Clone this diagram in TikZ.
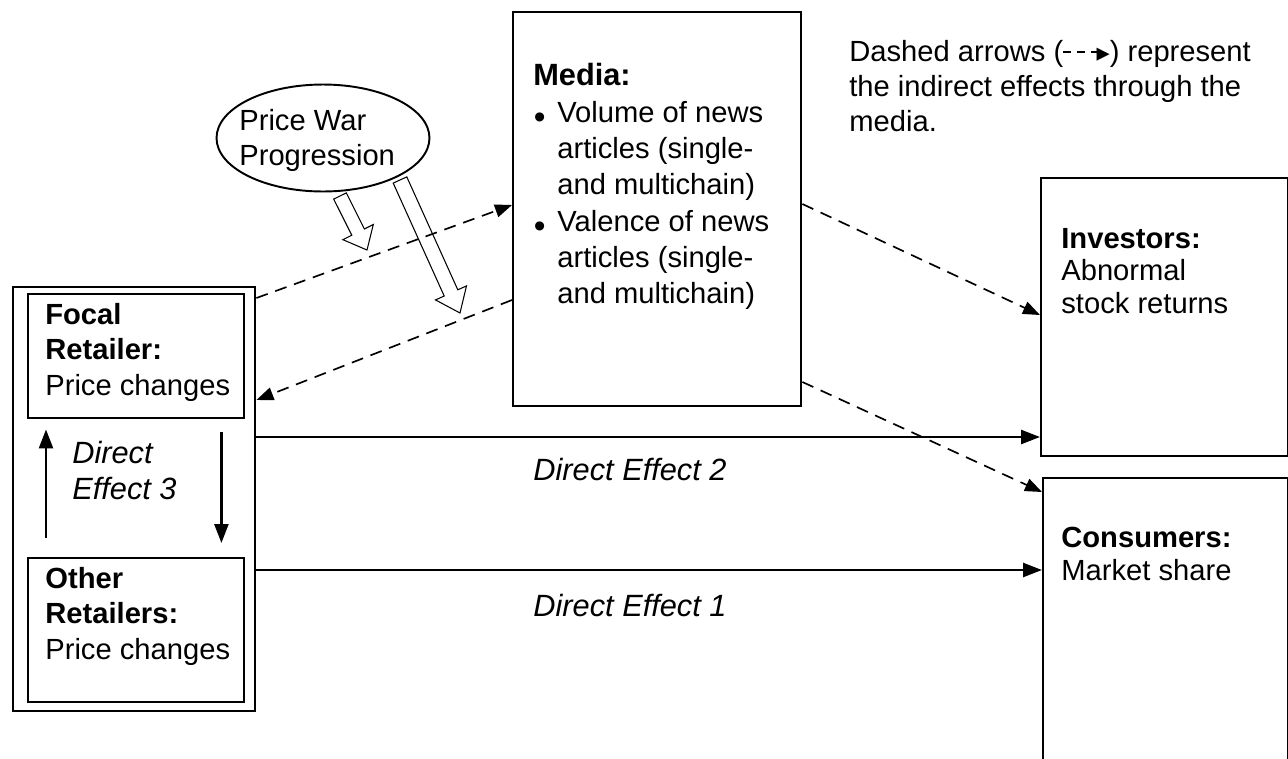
\documentclass[tikz,border=0pt]{standalone}
\usepackage{fontspec}
\setmainfont{Liberation Sans}
\newfontfamily\symfont{DejaVu Sans}
\usetikzlibrary{arrows.meta,shapes.geometric}
\newcommand{\mybul}{\makebox[0.48cm][l]{\hspace{0.01cm}\raisebox{-3.6pt}{\fontsize{19}{19}\selectfont\textbullet}}}
\newcommand{\myind}{\hspace*{0.48cm}}
\newcommand{\legarrow}{\rule[0.28em]{0.28em}{0.07em}\hspace{0.2em}\rule[0.28em]{0.28em}{0.07em}\hspace{0.2em}\rule[0.28em]{0.3em}{0.07em}\kern-0.12em{\symfont\fontsize{15}{15}\selectfont ▸}}
\begin{document}
\begin{tikzpicture}[x=0.02cm,y=-0.02cm,
  box/.style={draw, line width=1.4pt, inner sep=0pt, anchor=north west},
  txt/.style={inner sep=0pt, anchor=north west, align=left, font=\fontsize{16.6}{20.2}\selectfont},
  lbl/.style={inner sep=0pt, font=\fontsize{17.5}{20.5}\selectfont\itshape},
  solidarrow/.style={line width=1.4pt, -{Triangle[length=0.38cm,width=0.28cm]}},
  dasharrow/.style={line width=0.95pt, dash pattern=on 0.24cm off 0.16cm, -{Triangle[length=0.34cm,width=0.26cm]}},
  hollow/.style={draw, line width=0.6pt, line join=miter}
]
\useasboundingbox (0,0) rectangle (1288,758);
\clip (0,0) rectangle (1288,758);

% boxes
\node[box, minimum width=4.84cm, minimum height=8.48cm] (outer) at (12,286) {};
\node[box, minimum width=4.32cm, minimum height=2.48cm] (focal) at (27,293) {};
\node[box, minimum width=4.32cm, minimum height=2.88cm] (other) at (27,557) {};
\node[box, minimum width=5.76cm, minimum height=7.88cm] (media) at (512,11) {};
\node[box, minimum width=4.94cm, minimum height=5.56cm] (inv) at (1040,177) {};
\node[box, minimum width=4.9cm, minimum height=6cm] (cons) at (1042,477) {};
\node[draw, ellipse, line width=1.1pt, minimum width=4.26cm, minimum height=2.14cm, inner sep=0pt] (war) at (323,138) {};

% texts
\node[txt] (focaltxt) at (45,303) {\textbf{Focal}\\\textbf{Retailer:}\\Price changes};
\node[txt] (othertxt) at (45,567) {\textbf{Other}\\\textbf{Retailers:}\\Price changes};
\node[lbl, anchor=north west, align=left] (de3) at (72,441) {Direct\\Effect 3};
\node[txt, font=\fontsize{16.6}{20.7}\selectfont] (mediatxt) at (533,63) {{\fontsize{17.5}{21}\selectfont\textbf{Media:}}\\
\mybul Volume of news\\
\myind articles (single-\\
\myind and multichain)\\
\mybul Valence of news\\
\myind articles (single-\\
\myind and multichain)};
\node[txt] (wartxt) at (239,109) {Price War\\Progression};
\node[txt, font=\fontsize{16.6}{19.8}\selectfont] (note) at (849,40) {Dashed arrows (\legarrow) represent\\the indirect effects through the\\media.};
\node[txt, font=\fontsize{16.6}{18.4}\selectfont] (invtxt) at (1061,228) {\textbf{Investors:}\\Abnormal\\stock returns};
\node[txt, font=\fontsize{16.6}{18.4}\selectfont] (constxt) at (1061,527) {\textbf{Consumers:}\\Market share};
\node[lbl] (de2) at (630,470) {Direct Effect 2};
\node[lbl] (de1) at (630,605) {Direct Effect 1};

% direct effects
\draw[solidarrow] (outer.east |- 0,437) -- (inv.west |- 0,437);
\draw[solidarrow] (outer.east |- 0,570) -- (cons.west |- 0,570);
\draw[solidarrow] ([shift={(19,-19)}]other.north west) -- ([shift={(19,10)}]focal.south west);
\draw[solidarrow] ([shift={(-24,13)}]focal.south east) -- ([shift={(-24,-14)}]other.north east);

% indirect effects
\draw[dasharrow] (outer.east |- 0,298) -- (media.west |- 0,205);
\draw[dasharrow] (media.west |- 0,300) -- (outer.east |- 0,400);
\draw[dasharrow] (media.east |- 0,204) -- (inv.west |- 0,315);
\draw[dasharrow] (media.east |- 0,382) -- (cons.west |- 0,492);

% hollow arrows
\draw[hollow] (333.7,199.1) -- (351.8,235.2) -- (342.9,239.7) -- (367,250) -- (373.3,224.5) -- (364.4,229.0) -- (346.3,192.9) -- cycle;
\draw[hollow] (393.2,183.1) -- (444.2,296.0) -- (435.5,299.9) -- (460,313) -- (466.5,285.9) -- (457.8,289.8) -- (406.8,176.9) -- cycle;
\end{tikzpicture}
\end{document}
